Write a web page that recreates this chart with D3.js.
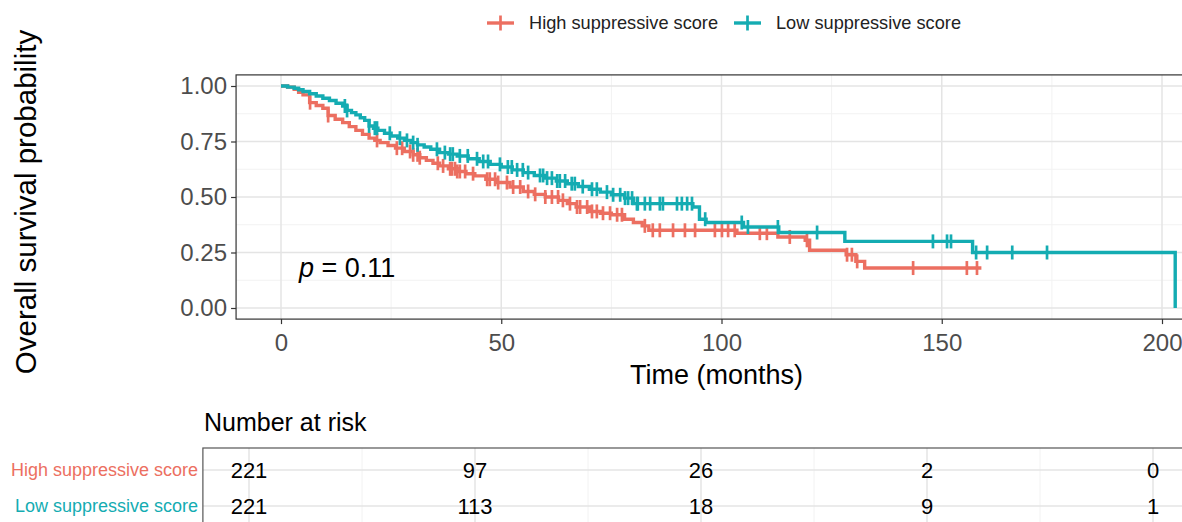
<!DOCTYPE html>
<html>
<head>
<meta charset="utf-8">
<script src="https://cdn.jsdelivr.net/npm/d3@7"></script>
<style>
  body { margin: 0; background: #fff; }
  svg { display: block; font-family: "Liberation Sans", Arial, sans-serif; }
</style>
</head>
<body>
<svg id="chart" width="1182" height="522"></svg>
<script>
// groups + colours
var groups = ["High suppressive score", "Low suppressive score"];
var colors = ["#EC6F61", "#14ACB2"];

// KM steps (months, survival)
var highTime = [0,1.5,3,4,5,6.5,8,9.5,10.7,12.3,14,15.5,17,18.5,20,21.3,22.5,24.3,26,28,30,31.5,33,34.5,36,38,40,42,44,46.5,49,52,55,57.5,60,63,65,67,70,72.5,75,78,80,82,83.5,103.5,112.8,119,120,128.3,130.5,132.5,159];
var highSurv = [1,0.995,0.985,0.972,0.96,0.925,0.912,0.9,0.867,0.85,0.835,0.817,0.8,0.782,0.765,0.755,0.745,0.732,0.72,0.705,0.69,0.677,0.665,0.652,0.64,0.627,0.615,0.605,0.595,0.58,0.565,0.545,0.525,0.512,0.5,0.485,0.47,0.455,0.435,0.427,0.42,0.4,0.385,0.37,0.35,0.337,0.32,0.305,0.26,0.24,0.21,0.18,0.18];
var lowTime = [0,1.5,3,4,5,6.5,8,9.5,11,12.5,14,15,16,17,18,19,20,21,22,23.5,25,26.5,28,29.5,31,32.5,34,36,38,40,42.5,45,47.5,50,52.5,55,57.5,60,62.5,65,67.5,70,72.5,75,78,80,93.5,95,96.5,105,113,128,157,203];
var lowSurv = [1,0.995,0.99,0.983,0.975,0.965,0.955,0.945,0.935,0.922,0.91,0.89,0.88,0.87,0.857,0.845,0.82,0.81,0.8,0.787,0.775,0.765,0.755,0.745,0.735,0.725,0.715,0.7,0.693,0.685,0.672,0.66,0.647,0.635,0.622,0.61,0.597,0.585,0.572,0.56,0.547,0.535,0.522,0.51,0.495,0.47,0.455,0.4,0.385,0.365,0.34,0.3,0.25,0];

// censored times
var highCensor = [6.6,10.7,21.8,26.3,27.5,29.3,30,31,31.5,35.6,36.8,38.4,38.8,39.5,40,40.6,41.8,43.6,46.8,47.4,48.6,49.3,51.3,52.7,54.3,56.1,57.7,60,61.5,62.9,64,65.6,67.2,67.9,69.5,70.6,71.7,73.1,74.7,76.3,77.4,82.6,84.4,86,89,91.7,94,98.5,100.1,101.5,103,108.7,110.3,115.5,119.4,128.5,129.6,130.8,143.5,155.7,158];
var lowCensor = [14.5,15,20,21.3,21.8,24.7,27,28.6,30,31,35.4,37.2,38.4,39,40.6,42.4,44.5,45.9,47,49.7,51.5,52.4,53.6,54.9,56.1,58.8,59.5,60.4,61.5,62.7,63.3,64.5,66,66.7,68.5,70.6,71.7,74,75.4,77,78.1,78.8,79.7,80.8,81,82.6,83.8,86,86.7,89.9,91,92.2,93.3,96.3,104.6,106,112.8,121.7,148,151.2,152.1,157.8,160.3,166,173.9];

// number at risk
var riskTimes = [0, 50, 100, 150, 200];
var highRisk = [221, 97, 26, 2, 0];
var lowRisk = [221, 113, 18, 9, 1];

var xTicks = [0, 50, 100, 150, 200];
var xMinor = [25, 75, 125, 175];
var yTicks = [0, 0.25, 0.5, 0.75, 1];
var yMinor = [0.125, 0.375, 0.625, 0.875];

var svg = d3.select('#chart');

// main panel scales (ggplot style 5% expansion)
var x = d3.scaleLinear().domain([0, 200]).range([281, 1162]);
var y = d3.scaleLinear().domain([0, 1]).range([308, 86]);
var pL = x(-10.2), pR = x(214.2), pT = y(1.05), pB = y(-0.05);

var grid = svg.append('g');
grid.selectAll('.ymin').data(yMinor).enter().append('line')
  .attr('x1', pL).attr('x2', pR).attr('y1', d => y(d)).attr('y2', d => y(d))
  .attr('stroke', '#f2f2f2').attr('stroke-width', 1);
grid.selectAll('.xmin').data(xMinor).enter().append('line')
  .attr('y1', pT).attr('y2', pB).attr('x1', d => x(d)).attr('x2', d => x(d))
  .attr('stroke', '#f2f2f2').attr('stroke-width', 1);
grid.selectAll('.ymaj').data(yTicks).enter().append('line')
  .attr('x1', pL).attr('x2', pR).attr('y1', d => y(d)).attr('y2', d => y(d))
  .attr('stroke', '#e4e4e4').attr('stroke-width', 1.5);
grid.selectAll('.xmaj').data(xTicks).enter().append('line')
  .attr('y1', pT).attr('y2', pB).attr('x1', d => x(d)).attr('x2', d => x(d))
  .attr('stroke', '#e4e4e4').attr('stroke-width', 1.5);

svg.append('rect').attr('x', pL).attr('y', pT).attr('width', pR - pL).attr('height', pB - pT)
  .attr('fill', 'none').attr('stroke', '#333').attr('stroke-width', 1.2);

// axes
var xAxis = svg.append('g').attr('transform', 'translate(0,' + pB + ')')
  .call(d3.axisBottom(x).tickValues(xTicks).tickSize(5).tickPadding(4).tickFormat(d3.format('d')));
var yAxis = svg.append('g').attr('transform', 'translate(' + pL + ',0)')
  .call(d3.axisLeft(y).tickValues(yTicks).tickSize(5).tickPadding(4).tickFormat(d3.format('.2f')));
[xAxis, yAxis].forEach(function(a){
  a.select('.domain').remove();
  a.selectAll('line').attr('stroke', '#333').attr('stroke-width', 1.2);
  a.selectAll('text').attr('fill', '#4d4d4d').style('font-size', '24px');
});
xAxis.selectAll('text').attr('dy', '0.95em');

// curves
var series = [
  {t: highTime, s: highSurv, c: highCensor, col: colors[0]},
  {t: lowTime, s: lowSurv, c: lowCensor, col: colors[1]}
];
var line = d3.line().x(d => x(d[0])).y(d => y(d[1])).curve(d3.curveStepAfter);
var bis = d3.bisector(d => d).right;

series.forEach(function(g){
  var pts = g.t.map((t, i) => [t, g.s[i]]);
  svg.append('path').datum(pts).attr('d', line)
    .attr('fill', 'none').attr('stroke', g.col).attr('stroke-width', 3.4);
  svg.append('g').selectAll('line').data(g.c).enter().append('line')
    .attr('x1', d => x(d)).attr('x2', d => x(d))
    .attr('y1', d => y(g.s[bis(g.t, d) - 1]) - 7)
    .attr('y2', d => y(g.s[bis(g.t, d) - 1]) + 7)
    .attr('stroke', g.col).attr('stroke-width', 2.7);
});

// p value
var pt = svg.append('text').attr('x', 299).attr('y', 277).style('font-size', '27px').attr('fill', '#000');
pt.append('tspan').style('font-style', 'italic').text('p');
pt.append('tspan').text(' = 0.11');

// axis titles
svg.append('text').attr('x', x(100) - 5).attr('y', 384).attr('text-anchor', 'middle')
  .style('font-size', '27px').attr('fill', '#000').text('Time (months)');
svg.append('text').attr('transform', 'translate(36,202) rotate(-90)').attr('text-anchor', 'middle')
  .style('font-size', '29.5px').attr('fill', '#000').text('Overall survival probability');

// legend
var legX = [487, 734];
var leg = svg.append('g');
groups.forEach(function(name, i){
  var g = leg.append('g').attr('transform', 'translate(' + legX[i] + ',23)');
  g.append('line').attr('x1', 0).attr('x2', 27).attr('stroke', colors[i]).attr('stroke-width', 3.4);
  g.append('line').attr('x1', 13.5).attr('x2', 13.5).attr('y1', -7.5).attr('y2', 7.5).attr('stroke', colors[i]).attr('stroke-width', 2.7);
  g.append('text').attr('x', 42).attr('dy', '0.35em').style('font-size', '18.2px').attr('fill', '#222').text(name);
});

// risk table
var xt = d3.scaleLinear().domain([0, 200]).range([249, 1153]);
var rowY = [470, 506];
var tL = xt(-10.2), tR = xt(214.2), tT = 448, tB = 540;
var tg = svg.append('g');
tg.selectAll('.tmin').data(xMinor).enter().append('line')
  .attr('y1', tT).attr('y2', tB).attr('x1', d => xt(d)).attr('x2', d => xt(d))
  .attr('stroke', '#f2f2f2').attr('stroke-width', 1);
tg.selectAll('.tmaj').data(xTicks).enter().append('line')
  .attr('y1', tT).attr('y2', tB).attr('x1', d => xt(d)).attr('x2', d => xt(d))
  .attr('stroke', '#e4e4e4').attr('stroke-width', 1.5);
tg.selectAll('.trow').data(rowY).enter().append('line')
  .attr('x1', tL).attr('x2', tR).attr('y1', d => d).attr('y2', d => d)
  .attr('stroke', '#e4e4e4').attr('stroke-width', 1.5);
tg.append('rect').attr('x', tL).attr('y', tT).attr('width', tR - tL).attr('height', tB - tT)
  .attr('fill', 'none').attr('stroke', '#555').attr('stroke-width', 1.2);

svg.append('text').attr('x', 204).attr('y', 431).style('font-size', '25px').attr('fill', '#000').text('Number at risk');

[highRisk, lowRisk].forEach(function(vals, i){
  svg.append('text').attr('x', 198).attr('y', rowY[i]).attr('dy', '0.35em').attr('text-anchor', 'end')
    .style('font-size', '18px').attr('fill', colors[i]).text(groups[i]);
  svg.append('g').selectAll('text').data(vals).enter().append('text')
    .attr('x', (d, j) => xt(riskTimes[j])).attr('y', rowY[i]).attr('dy', '0.36em')
    .attr('text-anchor', 'middle').style('font-size', '22px').attr('fill', '#000')
    .text(d => d);
});
</script>
</body>
</html>
